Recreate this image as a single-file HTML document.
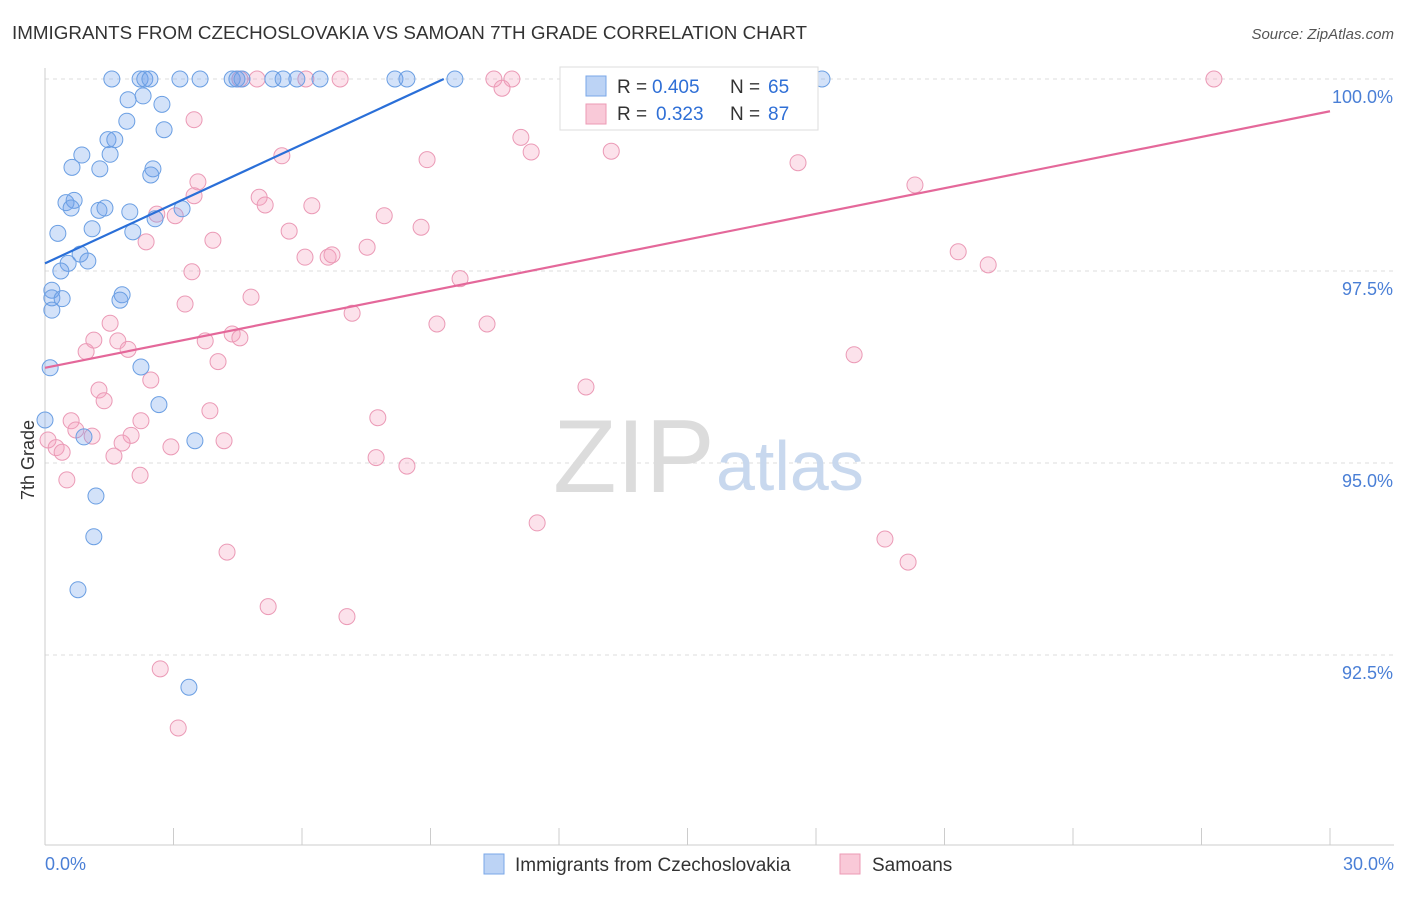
<!DOCTYPE html>
<html><head><meta charset="utf-8"><style>
body{margin:0;background:#fff;font-family:"Liberation Sans",sans-serif}
svg text{font-family:"Liberation Sans",sans-serif}
</style></head><body>
<svg id="chart" width="1406" height="892">
<text x="12" y="39" font-size="18" fill="#333" textLength="795" lengthAdjust="spacingAndGlyphs">IMMIGRANTS FROM CZECHOSLOVAKIA VS SAMOAN 7TH GRADE CORRELATION CHART</text>
<text x="1394" y="39" font-size="15" fill="#555" font-style="italic" text-anchor="end">Source: ZipAtlas.com</text>
<g id="grid"></g>
<text x="553" y="492" font-size="104" fill="#dcdcdc" font-family="Liberation Serif">ZIP</text>
<text x="716" y="490" font-size="70" fill="#c8d8ee">atlas</text>
<g id="pts"></g>
<text x="34" y="460" font-size="18" fill="#333" transform="rotate(-90 34 460)" text-anchor="middle">7th Grade</text>
<text x="45" y="870" font-size="18" fill="#4a7fd6">0.0%</text>
<text x="1394" y="870" font-size="18" fill="#4a7fd6" text-anchor="end">30.0%</text>
<g>
<rect x="560" y="67" width="258" height="63" fill="#fff" stroke="#ddd"/>
<rect x="586" y="76" width="20" height="20" fill="#bcd3f5" stroke="#7aa7e8"/>
<rect x="586" y="104" width="20" height="20" fill="#f9c9d8" stroke="#ec9ab5"/>
<text x="617" y="93" font-size="19" fill="#333">R =</text>
<text x="652" y="93" font-size="19" fill="#2f6fd6">0.405</text>
<text x="730" y="93" font-size="19" fill="#333">N =</text>
<text x="768" y="93" font-size="19" fill="#2f6fd6">65</text>
<text x="617" y="120" font-size="19" fill="#333">R =</text>
<text x="656" y="120" font-size="19" fill="#2f6fd6">0.323</text>
<text x="730" y="120" font-size="19" fill="#333">N =</text>
<text x="768" y="120" font-size="19" fill="#2f6fd6">87</text>
</g>
<g>
<rect x="484" y="854" width="20" height="20" fill="#bcd3f5" stroke="#7aa7e8"/>
<text x="515" y="871" font-size="19" fill="#333">Immigrants from Czechoslovakia</text>
<rect x="840" y="854" width="20" height="20" fill="#f9c9d8" stroke="#ec9ab5"/>
<text x="872" y="871" font-size="19" fill="#333">Samoans</text>
</g>
</svg>
<script>
const yTicks=[100,97.5,95,92.5];
const yTickLabels=["100.0%","97.5%","95.0%","92.5%"];
const blueX=[1.56,2.22,2.33,2.45,3.15,3.62,4.37,4.48,4.60,5.32,5.56,5.88,6.42,8.17,8.45,9.57,18.14,1.94,2.29,2.73,1.91,2.78,1.47,1.63,0.86,1.52,0.63,1.28,2.52,2.47,0.49,0.68,0.61,1.26,1.40,1.98,2.57,3.20,0.30,1.10,2.05,0.82,0.54,1.00,0.37,0.16,0.16,0.40,1.80,1.75,0.16,0.12,2.24,2.66,0,0.91,3.50,1.19,1.14,0.77,3.36];
const blueY=[100,100,100,100,100,100,100,100,100,100,100,100,100,100,100,100,100,99.73,99.78,99.67,99.45,99.34,99.21,99.21,99.01,99.02,98.85,98.83,98.83,98.75,98.39,98.42,98.32,98.29,98.32,98.27,98.18,98.31,97.99,98.05,98.01,97.72,97.60,97.63,97.50,97.25,97.15,97.14,97.19,97.12,96.99,96.24,96.25,95.76,95.56,95.34,95.29,94.57,94.04,93.35,92.08];
const pinkX=[4.55,4.95,6.09,6.89,10.48,10.90,12.37,14.03,27.29,10.67,3.48,11.11,11.35,13.22,8.92,5.53,17.58,3.57,20.31,3.48,5.00,5.14,6.23,2.61,3.04,7.92,8.78,5.70,2.36,3.92,7.52,6.07,6.61,6.70,21.32,22.02,3.43,9.69,4.81,3.27,7.17,1.52,9.15,10.32,1.14,1.70,3.74,4.37,4.55,1.94,0.96,18.89,4.04,2.47,1.26,12.63,1.38,3.85,7.77,0.61,2.24,0.72,2.01,1.10,1.80,4.18,2.94,0.07,0.26,0.40,1.61,7.73,8.45,2.22,0.51,11.49,19.61,4.25,20.15,5.21,7.05,2.69,3.11];
const pinkY=[100,100,100,100,100,100,100,100,100,99.88,99.47,99.24,99.05,99.06,98.95,99.00,98.91,98.66,98.62,98.48,98.46,98.36,98.35,98.24,98.22,98.22,98.07,98.02,97.88,97.90,97.81,97.68,97.68,97.71,97.75,97.58,97.49,97.40,97.16,97.07,96.95,96.82,96.81,96.81,96.60,96.59,96.59,96.68,96.63,96.48,96.45,96.41,96.32,96.08,95.95,95.99,95.81,95.68,95.59,95.55,95.55,95.43,95.36,95.35,95.26,95.29,95.21,95.30,95.20,95.14,95.09,95.07,94.96,94.84,94.78,94.22,94.01,93.84,93.71,93.13,93.00,92.32,91.55];
const blueTrend=[[0,97.60],[9.31,100]];
const pinkTrend=[[0,96.24],[30,99.58]];
const NS="http://www.w3.org/2000/svg";
const X=v=>45+v*1285/30;
const Y=v=>79+(100-v)*76.8;
function mk(t,a,p){const e=document.createElementNS(NS,t);for(const k in a)e.setAttribute(k,a[k]);p.appendChild(e);return e;}
const g=document.getElementById('grid');
yTicks.forEach((t,i)=>{
 const l=mk('line',{x1:45,x2:1394,y1:Y(t),y2:Y(t),stroke:'#ddd','stroke-dasharray':'4,4'},g);
 
 
 const tx=mk('text',{x:1393,y:Y(t)+24,'font-size':18,fill:'#4a7fd6','text-anchor':'end'},g);
 tx.textContent=yTickLabels[i];
 
 
});
const ax=mk('line',{x1:45,x2:1394,y1:845,y2:845,stroke:'#ccc'},g);


const ay=mk('line',{x1:45,x2:45,y1:68,y2:845,stroke:'#ccc'},g);


for(let i=1;i<=10;i++){const t=mk('line',{x1:X(i*3),x2:X(i*3),y1:828,y2:845,stroke:'#ccc'},g);
 
 }
const p=document.getElementById('pts');
function dots(xs,ys,fill,stroke,name){xs.forEach((x,i)=>{const c=mk('circle',{cx:X(x),cy:Y(ys[i]),r:8,fill:fill,stroke:stroke,'stroke-width':1},p);
 
 });}
dots(pinkX,pinkY,'rgba(244,160,190,0.3)','#eb9ab6','samoan-point');
dots(blueX,blueY,'rgba(110,160,235,0.3)','#6b9fe3','czech-point');
const lb=mk('line',{x1:X(blueTrend[0][0]),y1:Y(blueTrend[0][1]),x2:X(blueTrend[1][0]),y2:Y(blueTrend[1][1]),stroke:'#2a6fd8','stroke-width':2.2},p);


const lp=mk('line',{x1:X(pinkTrend[0][0]),y1:Y(pinkTrend[0][1]),x2:X(pinkTrend[1][0]),y2:Y(pinkTrend[1][1]),stroke:'#e4689a','stroke-width':2.2},p);


</script>
</body></html>
